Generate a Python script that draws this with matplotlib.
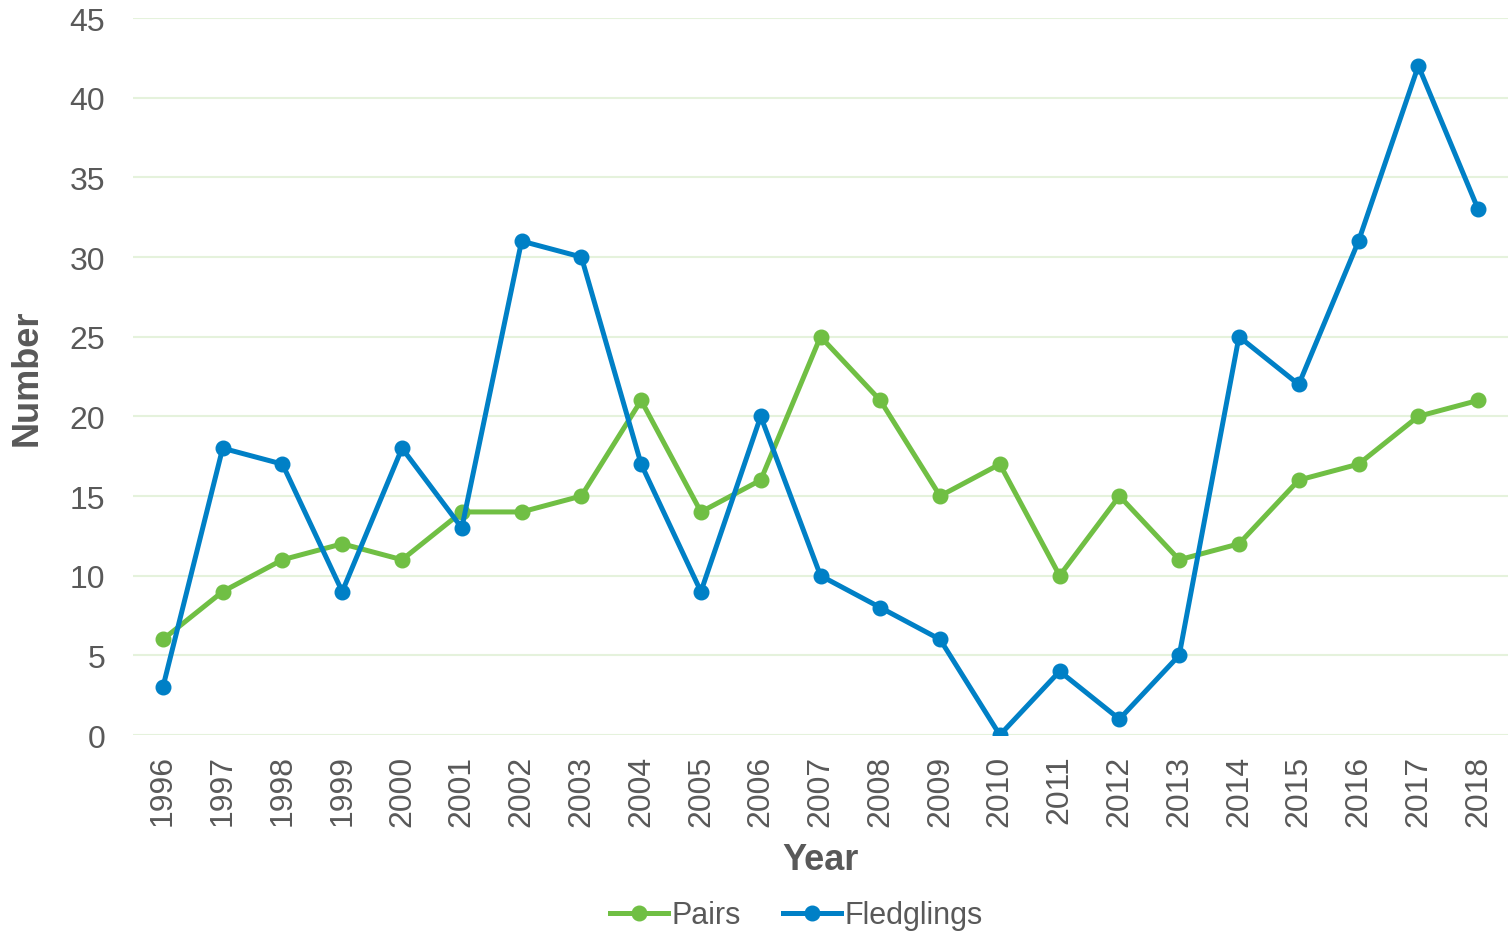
import matplotlib
matplotlib.use("Agg")
import matplotlib.pyplot as plt

plt.rcParams['font.family'] = ['Liberation Sans', 'DejaVu Sans']

# data
years = [str(y) for y in range(1996, 2019)]
pairs = [6, 9, 11, 12, 11, 14, 14, 15, 21, 14, 16, 25, 21, 15, 17, 10, 15, 11, 12, 16, 17, 20, 21]
fledglings = [3, 18, 17, 9, 18, 13, 31, 30, 17, 9, 20, 10, 8, 6, 0, 4, 1, 5, 25, 22, 31, 42, 33]
yticks = [0, 5, 10, 15, 20, 25, 30, 35, 40, 45]

green = '#70BF44'
blue = '#0080C6'
textcol = '#595959'

fig = plt.figure(figsize=(15.08, 9.37), dpi=100)
ax = fig.add_axes([0.0882, 0.2145, 0.9118, 0.7652])

x = list(range(len(years)))
ax.plot(x, pairs, color=green, lw=3.6, marker='o', ms=10.5, label='Pairs', zorder=3)
ax.plot(x, fledglings, color=blue, lw=3.6, marker='o', ms=10.5, label='Fledglings', zorder=3)

ax.set_xlim(-0.5, len(years) - 0.5)
ax.set_ylim(0, 45)
ax.set_yticks(yticks)
ax.set_xticks(x)
ax.set_xticklabels(years, rotation=90)
ax.grid(axis='y', color='#E5F2DC', lw=1.5)
ax.set_axisbelow(True)
for s in ax.spines.values():
    s.set_visible(False)
ax.tick_params(length=0, labelsize=23, labelcolor=textcol)
ax.tick_params(axis='y', pad=20)
ax.tick_params(axis='x', pad=14)

ax.set_xlabel('Year', fontsize=26, fontweight='bold', color=textcol, labelpad=12)
ax.set_ylabel('Number', fontsize=26, fontweight='bold', color=textcol, labelpad=18)

leg = fig.legend(loc='center', bbox_to_anchor=(0.528, 0.022), ncol=2, frameon=False,
                 fontsize=22, handlelength=1.9, columnspacing=1.4, handletextpad=0.1)
for t in leg.get_texts():
    t.set_color(textcol)

fig.savefig('out.png', dpi=100)
